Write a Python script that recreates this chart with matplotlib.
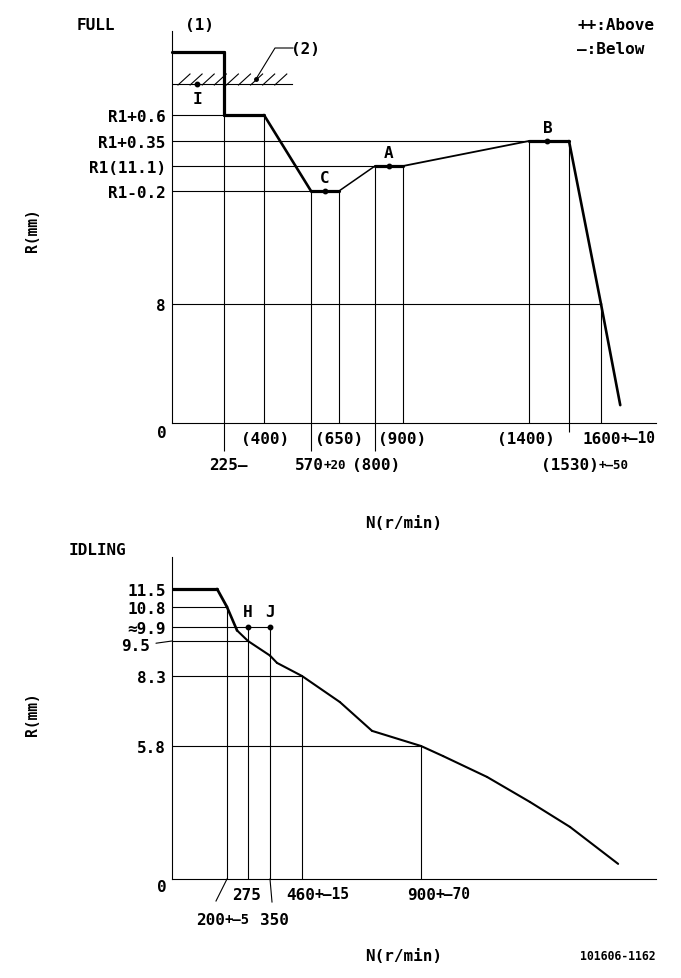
import matplotlib
matplotlib.use("Agg")
import matplotlib.pyplot as plt
import numpy as np
from matplotlib.lines import Line2D

W, H = 681, 979

# ---- FULL load curve (schematic: spec points only) ----
full_rpm = [0, 225, 225, 400, 570, 650, 800, 900, 1400, 1530, 1600, 1635]
full_R = [12.3, 12.3, 11.7, 11.7, 10.9, 10.9, 11.1, 11.1, 11.45, 11.45, 8.0, 1.2]
full_lw = [2.3, 2.3, 2.3, 1.9, 2.3, 1.1, 2.3, 1.3, 2.3, 1.9, 1.9]
full_yticks = [11.7, 11.45, 11.1, 10.9, 8]
full_ylabels = ['R1+0.6', 'R1+0.35', 'R1(11.1)', 'R1-0.2', '8']
full_hlines = [(11.7, 225), (11.45, 1400), (11.1, 800), (10.9, 570), (8, 1600)]
# (rpm, top R, bottom R)  bottom < 0 -> line runs below the axis
full_vlines = [(225, 11.7, -1.9), (400, 11.7, 0), (570, 10.9, -1.9), (650, 10.9, 0),
               (800, 11.1, -1.9), (900, 11.1, 0), (1400, 11.45, 0),
               (1530, 11.45, -0.6), (1600, 8, 0)]
stopper_R, stopper_rpm = 12.0, 500
full_points = {'I': (110, 12.0), 'C': (610, 10.9), 'A': (850, 11.1), 'B': (1460, 11.45)}

# ---- IDLING curve ----
idle_rpm = [0, 164, 200, 236, 275, 350, 374, 460, 600, 719, 900, 980, 1139, 1294, 1439, 1613]
idle_R = [11.5, 11.5, 10.8, 9.8, 9.5, 9.0, 8.75, 8.3, 7.37, 6.34, 5.8, 5.36, 4.45, 3.36, 2.27, 0.66]
idle_yticks = [11.5, 10.8, 9.9, 8.3, 5.8]
idle_ylabels = ['11.5', '10.8', '≈9.9', '8.3', '5.8']
idle_hlines = [(10.8, 200), (9.9, 350), (9.5, 275), (8.3, 460), (5.8, 900)]
idle_vlines = [(200, 10.8), (275, 9.9), (350, 9.9), (460, 8.3), (900, 5.8)]
idle_points = {'H': (275, 9.9), 'J': (350, 9.9)}

FONT = 'DejaVu Sans Mono'
FS = 11.5
plt.rcParams['font.family'] = [FONT, 'DejaVu Sans']
plt.rcParams['font.weight'] = 'bold'


def piecewise(vals, pix):
    vals = np.asarray(vals, float)
    pix = np.asarray(pix, float)
    return (lambda v: np.interp(v, vals, pix)), (lambda p: np.interp(p, pix, vals))


def fig_line(xs, ys, **kw):
    fig.add_artist(Line2D([x / W for x in xs], [1 - y / H for y in ys],
                          transform=fig.transFigure, color='black', **kw))


def fig_text(x, y, s, **kw):
    kw.setdefault('fontsize', FS)
    kw.setdefault('va', 'center')
    fig.text(x / W, 1 - y / H, s, fontweight='bold', **kw)


def xlabel(ax, x, main, suffix=None, dx=0, dy=-16, ha='center', sfs=9.5):
    t = ax.annotate(main, xy=(x, 0), xytext=(dx, dy), textcoords='offset pixels',
                    ha=ha, va='center', fontsize=FS, fontweight='bold',
                    annotation_clip=False)
    if suffix:
        ax.annotate(suffix, xy=(1, 0.12), xycoords=t, ha='left', va='bottom',
                    fontsize=sfs, fontweight='bold', annotation_clip=False)
    return t


def setup(ax, xv, xp, yv, yp, y0):
    fx, ix = piecewise(xv, xp)
    fy, iy = piecewise(yv, [y0 - p for p in yp])
    ax.set_xscale('function', functions=(fx, ix))
    ax.set_yscale('function', functions=(fy, iy))
    for s in ['top', 'right']:
        ax.spines[s].set_visible(False)
    for s in ['left', 'bottom']:
        ax.spines[s].set_linewidth(0.8)
    ax.set_xticks([])
    ax.tick_params(axis='y', length=0, pad=4.5, labelsize=FS)
    ax.patch.set_alpha(0)


fig = plt.figure(figsize=(W / 100, H / 100), dpi=100)

# ================= FULL =================
ax1 = fig.add_axes([172 / W, 1 - 424 / H, (656 - 172) / W, (424 - 32) / H])
setup(ax1,
      [0, 225, 400, 570, 650, 800, 900, 1400, 1530, 1600, 1700],
      [172, 224, 264, 311, 339, 375, 403, 529, 569, 601, 656],
      [-4, 0, 8, 10.9, 11.1, 11.45, 11.7, 12.5],
      [483.5, 424, 305, 192, 167, 142, 116, 32], 424)
ax1.set_xlim(0, 1700)
ax1.set_ylim(0, 12.5)
ax1.set_yticks(full_yticks, full_ylabels, fontweight='bold')

for r, xe in full_hlines:
    ax1.plot([0, xe], [r, r], color='black', lw=0.8)
for xv, top, bot in full_vlines:
    ax1.vlines(xv, bot, top, color='black', lw=0.8, clip_on=False)
ax1.plot([0, stopper_rpm], [stopper_R, stopper_R], color='black', lw=0.8)
for i in range(len(full_rpm) - 1):
    ax1.plot(full_rpm[i:i + 2], full_R[i:i + 2], color='black', lw=full_lw[i],
             solid_capstyle='round', clip_on=False)
for name, (xv, r) in full_points.items():
    ax1.plot(xv, r, 'o', color='black', ms=3.2)
    dy = -15 if name == 'I' else 13
    ax1.annotate(name, xy=(xv, r), xytext=(0, dy), textcoords='offset pixels',
                 ha='center', va='center', fontsize=FS, fontweight='bold')
ax1.annotate('0', xy=(0, 0), xytext=(-10, -9), textcoords='offset pixels',
             ha='center', va='center', fontsize=FS, fontweight='bold',
             annotation_clip=False)

xlabel(ax1, 400, '(400)', dx=1, dy=-16)
xlabel(ax1, 650, '(650)', dx=0, dy=-16)
xlabel(ax1, 900, '(900)', dx=-1, dy=-16)
xlabel(ax1, 1400, '(1400)', dx=-3, dy=-16)
xlabel(ax1, 1600, '1600', '+—10', dx=-19, dy=-16, ha='left', sfs=10.5)
xlabel(ax1, 225, '225—', dx=-15, dy=-42, ha='left')
xlabel(ax1, 570, '570', '+20', dx=-16, dy=-42, ha='left', sfs=9)
xlabel(ax1, 800, '(800)', dx=1, dy=-42)
xlabel(ax1, 1530, '(1530)', '+—50', dx=-28, dy=-42, ha='left', sfs=9)

# hatched stopper (2)
for hx in np.arange(178, 280, 12.1):
    fig_line([hx, hx + 12], [86, 75], lw=0.8)
fig_line([256, 275, 293], [80, 49, 49], lw=0.8)
fig.add_artist(Line2D([256 / W], [1 - 80 / H], marker='o', ms=2.5, color='black',
                      transform=fig.transFigure))

fig_text(96, 25, 'FULL', ha='center')
fig_text(199, 25, '(1)', ha='center')
fig_text(305, 49, '(2)', ha='center')
fig_text(577, 26, '++:Above', ha='left')
fig_text(577, 49, '—:Below', ha='left')
fig_text(33, 230, 'R(mm)', ha='center', rotation=90, fontsize=10.5)
fig_text(404, 523, 'N(r/min)', ha='center')

# ================= IDLING =================
ax2 = fig.add_axes([172 / W, 1 - 880 / H, (656 - 172) / W, (880 - 558) / H])
setup(ax2,
      [0, 200, 275, 350, 460, 900, 1750],
      [172, 227, 248, 270, 302, 421, 656],
      [-2, 0, 5.8, 8.3, 9.5, 9.9, 10.8, 11.5, 12.7],
      [926, 880, 747, 677, 642, 628, 608, 590, 558], 880)
ax2.set_xlim(0, 1750)
ax2.set_ylim(0, 12.7)
ax2.set_yticks(idle_yticks, idle_ylabels, fontweight='bold')

for r, xe in idle_hlines:
    ax2.plot([0, xe], [r, r], color='black', lw=0.8)
for xv, top in idle_vlines:
    ax2.vlines(xv, 0, top, color='black', lw=0.8)
idle_lw = [2.3, 2.0, 1.9] + [1.5] * (len(idle_rpm) - 4)
for i in range(len(idle_rpm) - 1):
    ax2.plot(idle_rpm[i:i + 2], idle_R[i:i + 2], color='black', lw=idle_lw[i],
             solid_capstyle='round')
for name, (xv, r) in idle_points.items():
    ax2.plot(xv, r, 'o', color='black', ms=3.2)
    ax2.annotate(name, xy=(xv, r), xytext=(0, 15), textcoords='offset pixels',
                 ha='center', va='center', fontsize=FS, fontweight='bold')
ax2.annotate('0', xy=(0, 0), xytext=(-10, -8), textcoords='offset pixels',
             ha='center', va='center', fontsize=FS, fontweight='bold',
             annotation_clip=False)
ax2.annotate('9.5', xy=(0, 9.5), xytext=(-36, -5), textcoords='offset pixels',
             ha='center', va='center', fontsize=FS, fontweight='bold',
             annotation_clip=False,
             arrowprops=dict(arrowstyle='-', lw=0.8, color='black',
                             shrinkA=2, shrinkB=0))

xlabel(ax2, 275, '275', dx=-1, dy=-16)
xlabel(ax2, 460, '460', '+—15', dx=-16, dy=-16, ha='left', sfs=10.5)
xlabel(ax2, 900, '900', '+—70', dx=-14, dy=-16, ha='left', sfs=10.5)
xlabel(ax2, 200, '200', '+—5', dx=-31, dy=-41, ha='left', sfs=10)
xlabel(ax2, 350, '350', dx=4, dy=-41)
fig_line([227, 216], [880, 902], lw=0.8)
fig_line([270, 272], [880, 903], lw=0.8)

fig_text(98, 551, 'IDLING', ha='center')
fig_text(33, 714, 'R(mm)', ha='center', rotation=90, fontsize=10.5)
fig_text(404, 957, 'N(r/min)', ha='center')
fig_text(618, 957, '101606-1162', ha='center', fontsize=8.3)

fig.savefig('out.png', dpi=100)
